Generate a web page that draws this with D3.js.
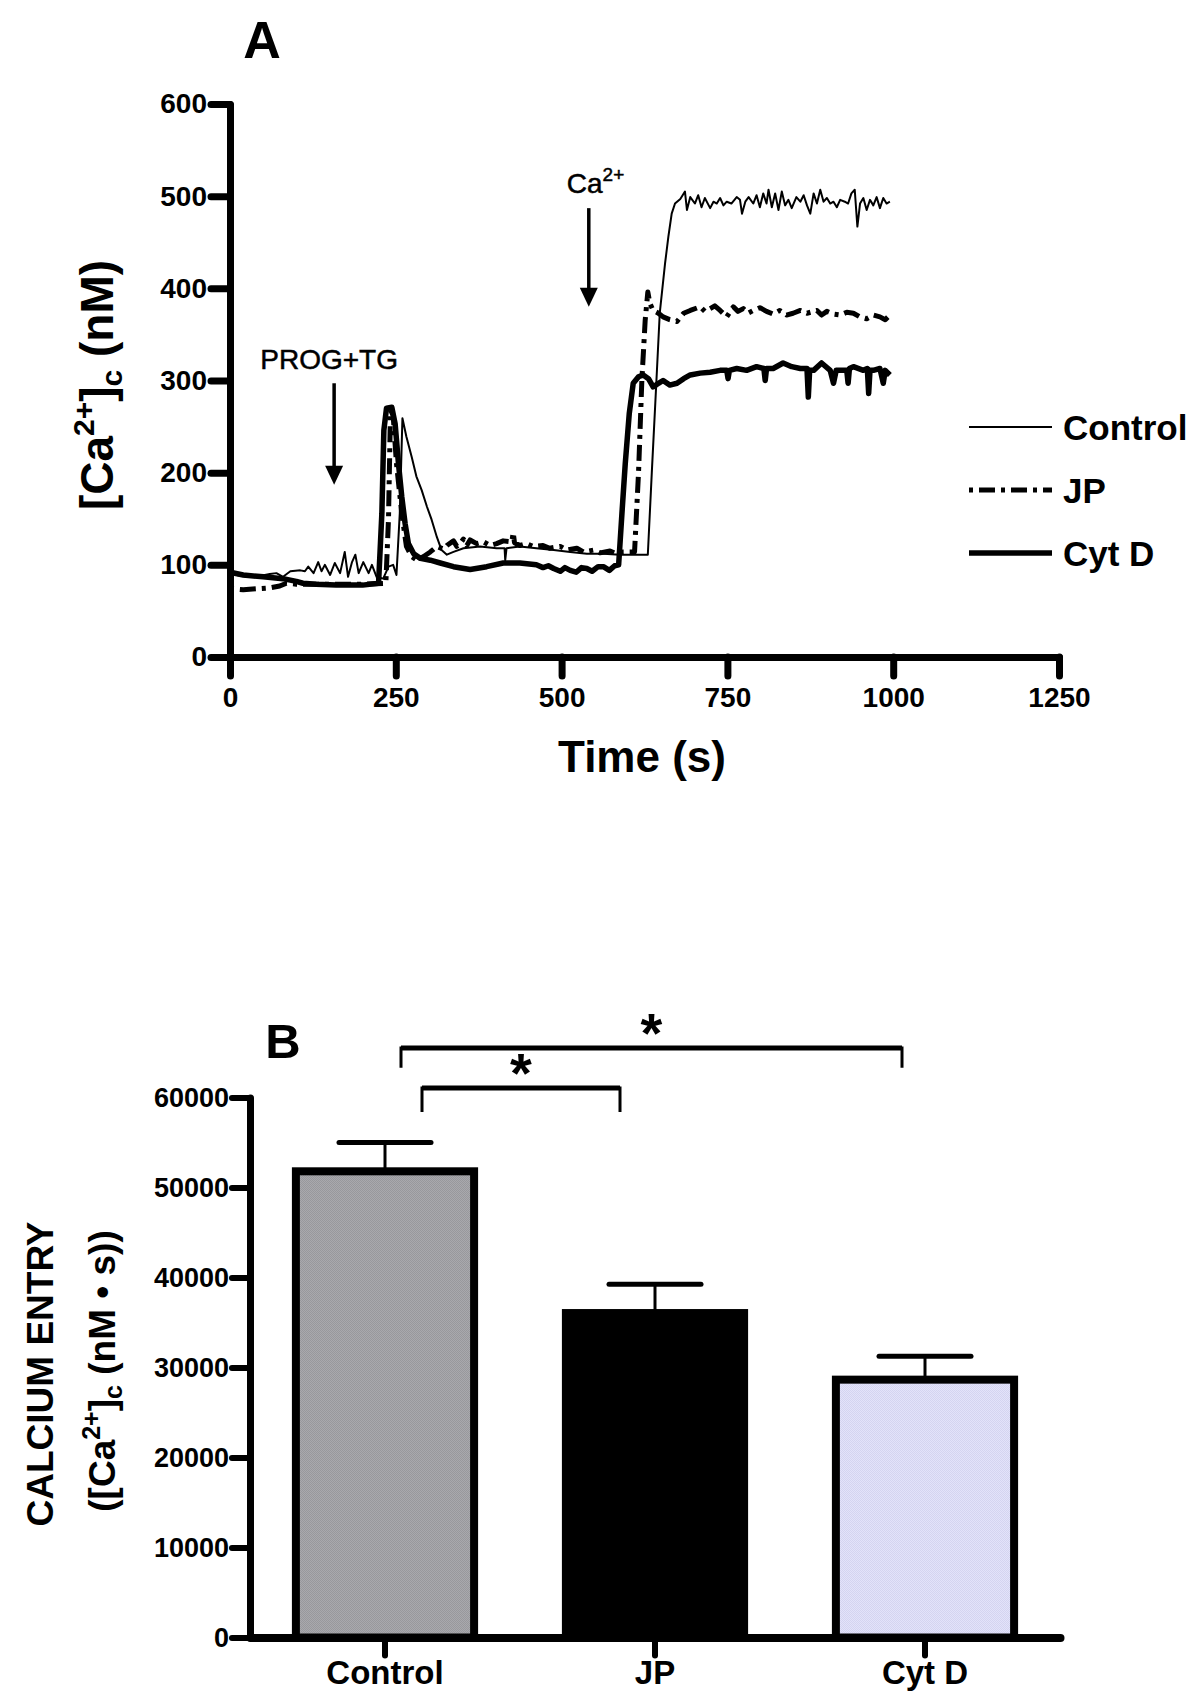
<!DOCTYPE html>
<html>
<head>
<meta charset="utf-8">
<script src="https://cdn.jsdelivr.net/npm/d3@7"></script>
<style>
  body { margin: 0; background: #fff; }
  svg { display: block; }
</style>
</head>
<body>
<div id="chart"></div>
<script>
var svgWidth = 1200;
var svgHeight = 1699;
var font = "'Liberation Sans', Arial, Helvetica, sans-serif";

// Panel A: traces, [time (s), [Ca2+]c (nM)]
var controlTrace = [[0,97],[10,89],[25,87],[45,88],[60,90],[70,91],[80,87],[91,93],[106,94],[113,93],[118,98],[126,91],
  [133,103],[138,93],[143,100],[151,89],[158,102],[166,91],[173,114],[178,87],[184,103],[189,111],[194,91],[201,103],
  [209,91],[214,100],[221,87],[231,85],[239,98],[246,100],[251,89],[256,156],[260,259],[266,239],[274,217],[281,196],
  [289,181],[297,163],[304,149],[312,130],[319,116],[327,111],[337,114],[352,118],[377,120],[402,118],[414,118],[415,105],
  [417,118],[437,120],[462,118],[488,116],[513,114],[538,112],[563,112],[588,111],[613,111],[630,111],[636,200],[643,300],
  [648,373],[656,427],[661,456],[666,481],[671,492],[679,497],[686,505],[689,485],[694,499],[701,492],[706,501],[711,488],
  [716,498],[724,487],[729,494],[734,492],[739,498],[744,490],[749,494],[756,492],[764,499],[769,496],[772,481],[777,494],
  [782,499],[789,492],[794,501],[799,488],[804,503],[809,492],[812,507],[817,488],[822,503],[827,485],[832,505],[837,490],
  [842,496],[847,487],[854,499],[860,494],[865,501],[870,490],[875,481],[880,503],[885,492],[890,507],[895,494],[900,498],
  [905,492],[910,494],[915,488],[920,496],[927,494],[932,492],[937,503],[942,507],[946,467],[950,492],[955,498],[960,485],
  [965,496],[970,490],[975,499],[980,487],[985,498],[990,492],[995,494]];

var jpTrace = [[0,75],[5,74],[20,73],[40,74],[60,75],[75,77],[85,80],[100,79],[150,79],[200,79],[235,80],[239,150],
  [242,268],[246,262],[251,210],[259,156],[266,120],[274,109],[282,105],[292,109],[302,114],[312,120],[322,117],[327,121],
  [337,126],[342,120],[347,123],[352,128],[357,121],[362,127],[372,123],[382,125],[392,121],[402,123],[412,126],[425,125],
  [427,135],[429,124],[437,121],[447,123],[457,120],[472,121],[482,118],[498,120],[508,116],[523,118],[533,114],[548,116],
  [558,113],[573,115],[583,112],[593,114],[610,114],[616,200],[621,300],[626,365],[630,396],[633,384],[638,376],[646,373],
  [653,369],[663,366],[674,364],[684,373],[694,376],[709,380],[716,375],[724,378],[731,381],[739,376],[749,369],[759,380],
  [766,375],[774,378],[781,373],[789,376],[799,379],[809,375],[819,372],[829,376],[839,371],[849,373],[860,376],[870,373],
  [885,376],[892,371],[900,375],[910,372],[920,371],[930,374],[940,373],[950,369],[960,367],[970,371],[980,369],[988,366],
  [995,371]];

var cytdTrace = [[0,92],[20,89],[50,87],[80,85],[100,82],[110,80],[130,79],[160,78],[200,78],[224,80],[229,156],[232,246],
  [236,270],[244,271],[249,253],[254,210],[259,174],[264,145],[269,123],[277,112],[287,107],[302,105],[317,102],[337,98],
  [362,95],[387,98],[412,102],[437,102],[462,100],[472,97],[480,99],[488,96],[498,93],[505,97],[513,94],[522,92],
  [530,97],[538,96],[546,93],[555,98],[563,98],[572,94],[580,99],[586,100],[591,156],[596,210],
  [602,264],[608,297],[616,304],[623,306],[631,302],[638,293],[646,297],[653,300],[663,295],[674,297],[684,302],[694,306],
  [709,308],[724,309],[739,311],[749,311],[751,302],[753,311],[764,313],[779,311],[794,315],[805,313],[807,300],[809,313],
  [819,313],[834,319],[847,315],[860,313],[870,313],[872,282],[874,311],[880,311],[892,319],[905,311],[910,297],[914,311],
  [920,311],[930,311],[932,297],[934,313],[940,315],[955,311],[961,313],[963,286],[965,311],[970,311],[980,313],[985,297],
  [988,311],[995,306]];

var seriesNames = ["Control", "JP", "Cyt D"];
var timeTicks = [0, 250, 500, 750, 1000, 1250];
var concTicks = [0, 100, 200, 300, 400, 500, 600];

// arrows: time, arrow top and tip in nM
var arrowLabels = ["PROG+TG", "Ca"];
var arrowTime = [157, 541];
var arrowTop = [297, 487];
var arrowTip = [187, 380];

// Panel B: calcium entry (nM * s)
var groups = ["Control", "JP", "Cyt D"];
var entryMean = [51800, 36050, 28650];
var entrySem = [3200, 3200, 2600];
var entryTicks = [0, 10000, 20000, 30000, 40000, 50000, 60000];
// significance brackets: pair, bracket level and leg end (nM * s)
var bracketPairs = [["Control", "JP"], ["Control", "Cyt D"]];
var bracketLevel = [61050, 65500];
var bracketLegEnd = [58400, 63300];

var svg = d3.select("#chart")
  .append("svg")
  .attr("width", svgWidth)
  .attr("height", svgHeight)
  .style("font-family", font);

var defs = svg.append("defs");
function stipple(id, c1, c2) {
  var p = defs.append("pattern").attr("id", id).attr("width", 2).attr("height", 2)
    .attr("patternUnits", "userSpaceOnUse");
  p.append("rect").attr("width", 2).attr("height", 2).attr("fill", c1);
  p.append("rect").attr("width", 1).attr("height", 1).attr("fill", c2);
  p.append("rect").attr("x", 1).attr("y", 1).attr("width", 1).attr("height", 1).attr("fill", c2);
}
stipple("grayFill", "#a9a9ad", "#98989c");
stipple("lavFill", "#e3e3fa", "#d4d4f0");

function styleAxis(g, w, fs) {
  g.attr("font-family", null).attr("font-size", null);
  g.select(".domain").attr("stroke", "#000").attr("stroke-width", w).attr("stroke-linecap", "round");
  g.selectAll(".tick line").attr("stroke", "#000").attr("stroke-width", w).attr("stroke-linecap", "round");
  g.selectAll(".tick text").attr("fill", "#000").attr("font-size", fs).attr("font-weight", "bold");
}

// ======================= Panel A =======================
var xA = d3.scaleLinear().domain([0, 1250]).range([230, 1059]);
var yA = d3.scaleLinear().domain([0, 600]).range([657, 104]);

var lineStyles = {
  "Control": { width: 2, dash: null },
  "JP": { width: 5, dash: "4,6,16,6" },
  "Cyt D": { width: 5.5, dash: null }
};
var traces = { "Control": controlTrace, "JP": jpTrace, "Cyt D": cytdTrace };

var line = d3.line().x(d => xA(d[0])).y(d => yA(d[1]));

["Cyt D", "JP", "Control"].forEach(function(name) {
  svg.append("path")
    .datum(traces[name])
    .attr("d", line)
    .attr("fill", "none")
    .attr("stroke", "#000")
    .attr("stroke-width", lineStyles[name].width)
    .attr("stroke-linejoin", "round")
    .attr("stroke-dasharray", lineStyles[name].dash);
});

svg.append("g")
  .attr("transform", `translate(0, ${yA(0)})`)
  .call(d3.axisBottom(xA).tickValues(timeTicks).tickSize(19).tickPadding(11).tickSizeOuter(0).tickFormat(d3.format("d")))
  .call(g => styleAxis(g, 7, 28));

svg.append("g")
  .attr("transform", `translate(${xA(0)}, 0)`)
  .call(d3.axisLeft(yA).tickValues(concTicks).tickSize(19).tickPadding(4).tickSizeOuter(0))
  .call(g => styleAxis(g, 7, 28));

// arrows
arrowLabels.forEach(function(lbl, i) {
  var x = xA(arrowTime[i]);
  var y0 = yA(arrowTop[i]);
  var y1 = yA(arrowTip[i]);
  svg.append("line").attr("x1", x).attr("x2", x).attr("y1", y0).attr("y2", y1 - 12)
    .attr("stroke", "#000").attr("stroke-width", 3.5);
  svg.append("path")
    .attr("d", `M${x - 9},${y1 - 19} L${x + 9},${y1 - 19} L${x},${y1} Z`)
    .attr("fill", "#000");
});

svg.append("text")
  .attr("x", xA(arrowTime[0]) - 5).attr("y", yA(arrowTop[0]) - 14)
  .attr("text-anchor", "middle").attr("font-size", 28)
  .attr("stroke", "#000").attr("stroke-width", 0.5)
  .text(arrowLabels[0]);

var caText = svg.append("text")
  .attr("x", xA(arrowTime[1]) - 22).attr("y", yA(arrowTop[1]) - 15)
  .attr("font-size", 28).attr("stroke", "#000").attr("stroke-width", 0.5);
caText.append("tspan").text(arrowLabels[1]);
caText.append("tspan").attr("font-size", 19).attr("dy", -12).text("2+");

// legend
seriesNames.forEach(function(name, i) {
  var ly = 427 + i * 63;
  svg.append("line").attr("x1", 969).attr("x2", 1052).attr("y1", ly).attr("y2", ly)
    .attr("stroke", "#000").attr("stroke-width", lineStyles[name].width)
    .attr("stroke-dasharray", lineStyles[name].dash);
  svg.append("text").attr("x", 1063).attr("y", ly + 13)
    .attr("font-size", 35).attr("font-weight", "bold").text(name);
});

// axis titles
var yTitleA = svg.append("text")
  .attr("transform", "translate(113, 385) rotate(-90)")
  .attr("text-anchor", "middle").attr("font-size", 46).attr("font-weight", "bold");
yTitleA.append("tspan").text("[Ca");
yTitleA.append("tspan").attr("font-size", 30).attr("dy", -19).text("2+");
yTitleA.append("tspan").attr("dy", 19).text("]");
yTitleA.append("tspan").attr("font-size", 30).attr("dy", 9).text("c");
yTitleA.append("tspan").attr("dy", -9).text(" (nM)");

svg.append("text")
  .attr("x", 642).attr("y", 772)
  .attr("text-anchor", "middle").attr("font-size", 44).attr("font-weight", "bold")
  .text("Time (s)");

svg.append("text").attr("x", 262).attr("y", 58).attr("text-anchor", "middle")
  .attr("font-size", 52).attr("font-weight", "bold").text("A");

// ======================= Panel B =======================
var xB = d3.scaleBand().domain(groups).range([250, 1060]).padding(0);
var yB = d3.scaleLinear().domain([0, 60000]).range([1637.5, 1097.5]);
var barW = xB.bandwidth() * 0.66;
var barFill = ["url(#grayFill)", "#000", "url(#lavFill)"];

// error bars
groups.forEach(function(g, i) {
  var cx = xB(g) + xB.bandwidth() / 2;
  svg.append("line").attr("x1", cx).attr("x2", cx)
    .attr("y1", yB(entryMean[i])).attr("y2", yB(entryMean[i] + entrySem[i]))
    .attr("stroke", "#000").attr("stroke-width", 3);
  svg.append("line").attr("x1", cx - 46).attr("x2", cx + 46)
    .attr("y1", yB(entryMean[i] + entrySem[i])).attr("y2", yB(entryMean[i] + entrySem[i]))
    .attr("stroke", "#000").attr("stroke-width", 5).attr("stroke-linecap", "round");
});

svg.selectAll("rect.bar")
  .data(groups)
  .enter()
  .append("rect")
  .attr("class", "bar")
  .attr("x", d => xB(d) + (xB.bandwidth() - barW) / 2)
  .attr("width", barW)
  .attr("y", (d, i) => yB(entryMean[i]))
  .attr("height", (d, i) => yB(0) - yB(entryMean[i]))
  .attr("fill", (d, i) => barFill[i])
  .attr("stroke", "#000")
  .attr("stroke-width", 8);

svg.append("g")
  .attr("transform", `translate(0, ${yB(0)})`)
  .call(d3.axisBottom(xB).tickSize(18).tickPadding(5).tickSizeOuter(0))
  .call(g => styleAxis(g, 8, 33))
  .call(g => g.selectAll(".tick line").attr("stroke-width", 6));

svg.append("g")
  .attr("transform", `translate(${xB.range()[0]}, 0)`)
  .call(d3.axisLeft(yB).tickValues(entryTicks).tickSize(18).tickPadding(3).tickSizeOuter(0).tickFormat(d3.format("d")))
  .call(g => styleAxis(g, 7, 27))
  .call(g => g.selectAll(".tick line").attr("stroke-width", 6));

// significance brackets
var bracketInset = [[37, 35], [16, 23]];
bracketPairs.forEach(function(pair, i) {
  var xa = xB(pair[0]) + xB.bandwidth() / 2 + bracketInset[i][0];
  var xb = xB(pair[1]) + xB.bandwidth() / 2 - bracketInset[i][1];
  var yl = yB(bracketLevel[i]);
  var ye = yB(bracketLegEnd[i]);
  svg.append("path")
    .attr("d", `M${xa},${ye} L${xa},${yl} L${xb},${yl} L${xb},${ye}`)
    .attr("fill", "none").attr("stroke", "#000").attr("stroke-width", 3);
  svg.append("line").attr("x1", xa).attr("x2", xb).attr("y1", yl).attr("y2", yl)
    .attr("stroke", "#000").attr("stroke-width", 5);
  svg.append("text")
    .attr("x", (xa + xb) / 2).attr("y", yl + 4)
    .attr("text-anchor", "middle").attr("font-size", 56).attr("font-weight", "bold")
    .text("*");
});

// y title, two lines
svg.append("text")
  .attr("transform", "translate(53, 1374) rotate(-90)")
  .attr("text-anchor", "middle").attr("font-size", 37).attr("font-weight", "bold")
  .text("CALCIUM ENTRY");

var yTitleB = svg.append("text")
  .attr("transform", "translate(115, 1371) rotate(-90)")
  .attr("text-anchor", "middle").attr("font-size", 37).attr("font-weight", "bold");
yTitleB.append("tspan").text("([Ca");
yTitleB.append("tspan").attr("font-size", 25).attr("dy", -15).text("2+");
yTitleB.append("tspan").attr("dy", 15).text("]");
yTitleB.append("tspan").attr("font-size", 25).attr("dy", 7).text("c");
yTitleB.append("tspan").attr("dy", -7).text(" (nM \u2022 s))");

svg.append("text").attr("x", 283).attr("y", 1058).attr("text-anchor", "middle")
  .attr("font-size", 49).attr("font-weight", "bold").text("B");
</script>
</body>
</html>
